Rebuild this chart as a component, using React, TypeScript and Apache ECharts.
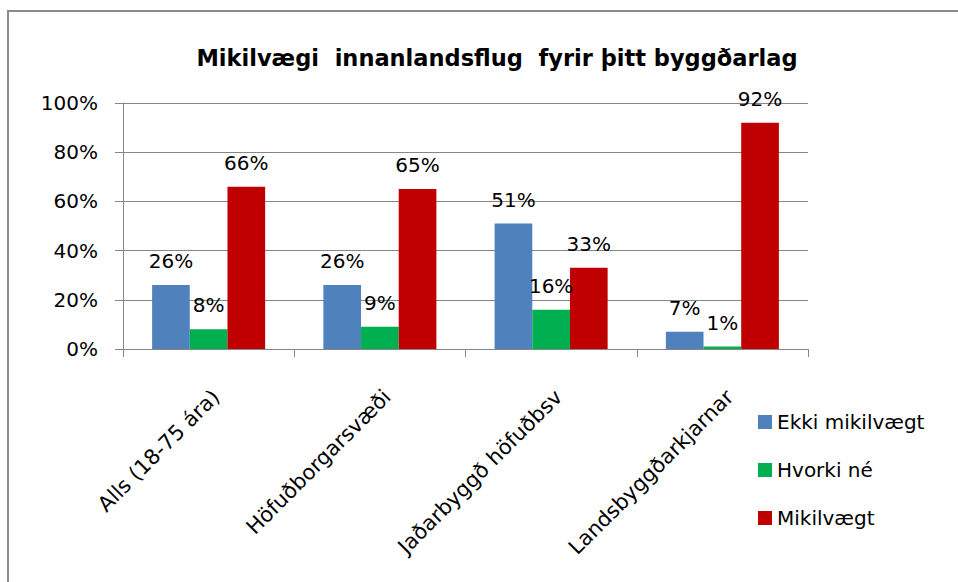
import React, { useEffect, useRef } from "react";
import * as echarts from "echarts";

const categories = ["Alls (18-75 ára)", "Höfuðborgarsvæði", "Jaðarbyggð höfuðbsv", "Landsbyggðarkjarnar"];
const ekkiMikilvaegt = [26, 26, 51, 7];
const hvorkiNe = [8, 9, 16, 1];
const mikilvaegt = [66, 65, 33, 92];
const seriesNames = ["Ekki mikilvægt", "Hvorki né", "Mikilvægt"];
const titleText = "Mikilvægi  innanlandsflug  fyrir þitt byggðarlag";

const FONT = "DejaVu Sans";

export default function App() {
  const ref = useRef<HTMLDivElement>(null);
  useEffect(() => {
    if (!ref.current) return;
    const chart = echarts.init(ref.current, null, { renderer: "svg" });
    const label = {
      show: true,
      position: "top" as const,
      distance: 14,
      color: "#000",
      fontFamily: FONT,
      fontSize: 20,
      formatter: (p: any) => p.value + "%",
    };
    const mk = (name: string, data: number[], color: string) => ({
      name,
      type: "bar" as const,
      data,
      barGap: "0%",
      barCategoryGap: "34%",
      itemStyle: { color },
      label,
    });
    chart.setOption({
      animation: false,
      textStyle: { fontFamily: FONT },
      title: {
        text: titleText,
        left: 492,
        top: 41,
        textAlign: "center",
        textStyle: { fontFamily: FONT, fontSize: 22.5, fontWeight: "bold", color: "#000" },
      },
      graphic: [
        {
          type: "rect",
          shape: { x: 8, y: 11, width: 1000, height: 1000 },
          style: { fill: "none", stroke: "#8c8c8c", lineWidth: 2 },
          silent: true,
        },
      ],
      legend: {
        orient: "vertical",
        left: 753,
        top: 407,
        itemWidth: 14,
        itemHeight: 14,
        itemGap: 28,
        icon: "rect",
        data: seriesNames,
        textStyle: { fontFamily: FONT, fontSize: 20, color: "#000", lineHeight: 20 },
      },
      grid: { left: 123, top: 103, right: 150, bottom: 233, containLabel: false },
      xAxis: {
        type: "category",
        data: categories,
        axisLine: { show: true, lineStyle: { color: "#868686", width: 1 } },
        axisTick: { show: true, length: 8, lineStyle: { color: "#868686" } },
        axisLabel: {
          rotate: 45,
          interval: 0,
          align: "right",
          verticalAlign: "top",
          margin: 37,
          color: "#000",
          fontFamily: FONT,
          fontSize: 21,
        },
      },
      yAxis: {
        type: "value",
        min: 0,
        max: 100,
        interval: 20,
        axisLine: { show: true, lineStyle: { color: "#868686", width: 1 } },
        axisTick: { show: true, length: 8, lineStyle: { color: "#868686" } },
        splitLine: { show: true, lineStyle: { color: "#868686", width: 1 } },
        axisLabel: {
          margin: 25,
          color: "#000",
          fontFamily: FONT,
          fontSize: 20,
          formatter: (v: number) => v + "%",
        },
      },
      series: [
        mk(seriesNames[0], ekkiMikilvaegt, "#4f81bd"),
        mk(seriesNames[1], hvorkiNe, "#00b050"),
        mk(seriesNames[2], mikilvaegt, "#c00000"),
      ],
    });
    return () => chart.dispose();
  }, []);
  return (
    <div
      ref={ref}
      style={{ position: "absolute", left: 0, top: 0, width: 958, height: 582, background: "#fff" }}
    />
  );
}
